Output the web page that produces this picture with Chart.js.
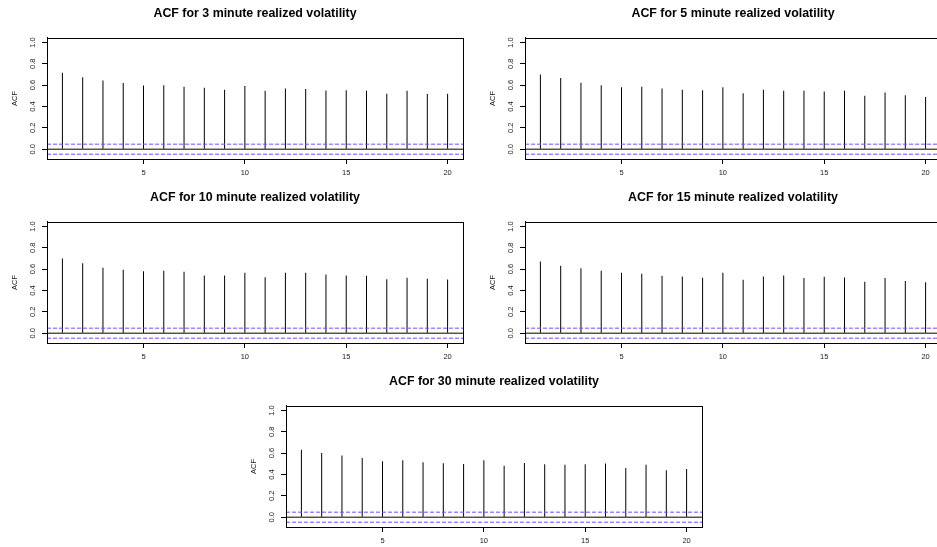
<!DOCTYPE html>
<html>
<head>
<meta charset="utf-8">
<script src="https://cdn.jsdelivr.net/npm/chart.js@4/dist/chart.umd.min.js"></script>
<style>
  html, body { margin: 0; padding: 0; background: #fff; width: 937px; height: 547px; overflow: hidden; position: relative; }
  canvas { position: absolute; }
</style>
</head>
<body>
<canvas id="c1" width="470" height="180" style="left:0px;top:0px;width:470px;height:180px"></canvas>
<canvas id="c2" width="470" height="180" style="left:478px;top:0px;width:470px;height:180px"></canvas>
<canvas id="c3" width="470" height="180" style="left:0px;top:184px;width:470px;height:180px"></canvas>
<canvas id="c4" width="470" height="180" style="left:478px;top:184px;width:470px;height:180px"></canvas>
<canvas id="c5" width="470" height="180" style="left:239px;top:368px;width:470px;height:180px"></canvas>
<script>
// ---- data ----
const lags = [1,2,3,4,5,6,7,8,9,10,11,12,13,14,15,16,17,18,19,20];
const acf3min  = [0.716,0.675,0.644,0.619,0.597,0.600,0.584,0.575,0.556,0.591,0.547,0.569,0.563,0.550,0.553,0.547,0.519,0.547,0.516,0.519];
const acf5min  = [0.700,0.666,0.622,0.600,0.581,0.584,0.569,0.556,0.553,0.581,0.525,0.556,0.547,0.547,0.540,0.547,0.500,0.531,0.506,0.490];
const acf10min = [0.700,0.656,0.613,0.594,0.581,0.584,0.575,0.541,0.541,0.566,0.525,0.566,0.566,0.550,0.541,0.538,0.506,0.519,0.509,0.503];
const acf15min = [0.672,0.631,0.609,0.584,0.566,0.556,0.538,0.531,0.519,0.566,0.500,0.531,0.541,0.516,0.528,0.522,0.481,0.516,0.488,0.478];
const acf30min = [0.633,0.602,0.577,0.555,0.524,0.533,0.514,0.505,0.498,0.533,0.483,0.508,0.495,0.492,0.495,0.502,0.461,0.492,0.439,0.451];
const confBound = 0.047;
const titles = [
  "ACF for 3 minute realized volatility",
  "ACF for 5 minute realized volatility",
  "ACF for 10 minute realized volatility",
  "ACF for 15 minute realized volatility",
  "ACF for 30 minute realized volatility"
];
const xTickValues = [5, 10, 15, 20];
const yTickValues = [0.0, 0.2, 0.4, 0.6, 0.8, 1.0];
const yLabel = "ACF";

// ---- chart building ----
const FONT = "'Liberation Sans', Arial, Helvetica, sans-serif";
const X_MIN = 0.24, X_MAX = 20.76, Y_MIN = -0.092, Y_MAX = 1.042;
const CANVAS_H = 180, AREA_LEFT = 47, AREA_TOP = 38, AREA_BOTTOM = 159, PAD_RIGHT = 7;

const boxPlugin = {
  id: 'rbox',
  afterDraw(chart) {
    const a = chart.chartArea, ctx = chart.ctx;
    ctx.save();
    ctx.strokeStyle = '#000';
    ctx.lineWidth = 1;
    ctx.strokeRect(Math.round(a.left) + 0.5, Math.round(a.top) + 0.5,
                   Math.round(a.right - a.left), Math.round(a.bottom - a.top));
    ctx.restore();
  }
};

function makeChart(id, title, values) {
  const ctx = document.getElementById(id).getContext('2d');
  return new Chart(ctx, {
    data: {
      datasets: [
        {
          type: 'bar',
          data: lags.map((l, i) => ({ x: l, y: values[i] })),
          backgroundColor: '#000',
          borderWidth: 0,
          barThickness: 1,
          inflateAmount: 0,
          order: 2
        },
        {
          type: 'line',
          data: [{ x: X_MIN, y: 0 }, { x: X_MAX, y: 0 }],
          borderColor: '#000',
          borderWidth: 1,
          pointRadius: 0,
          order: 1
        },
        {
          type: 'line',
          data: [{ x: X_MIN, y: confBound }, { x: X_MAX, y: confBound }],
          borderColor: 'rgb(120,70,255)',
          borderWidth: 1,
          borderDash: [4, 2],
          pointRadius: 0,
          order: 0
        },
        {
          type: 'line',
          data: [{ x: X_MIN, y: -confBound }, { x: X_MAX, y: -confBound }],
          borderColor: 'rgb(120,70,255)',
          borderWidth: 1,
          borderDash: [4, 2],
          pointRadius: 0,
          order: 0
        }
      ]
    },
    options: {
      responsive: false,
      animation: false,
      devicePixelRatio: 1,
      layout: { padding: { left: 0, top: 0, right: PAD_RIGHT, bottom: 0 } },
      plugins: {
        legend: { display: false },
        tooltip: { enabled: false },
        title: {
          display: true,
          text: title,
          fullSize: false,
          color: '#000',
          font: { family: FONT, size: 12.4, weight: 'bold' },
          padding: { top: 5.9, bottom: 17.2 }
        }
      },
      scales: {
        x: {
          type: 'linear',
          min: X_MIN, max: X_MAX,
          offset: false,
          afterBuildTicks(s) { s.ticks = xTickValues.map(v => ({ value: v })); },
          afterFit(s) { s.height = CANVAS_H - AREA_BOTTOM; },
          grid: { offset: false, drawOnChartArea: false, drawTicks: true, tickLength: 5, color: '#000' },
          border: { display: true, color: '#000' },
          ticks: {
            color: '#1a1a1a', padding: 4.5, maxRotation: 0, autoSkip: false,
            font: { family: FONT, size: 7.5 },
            callback: v => String(v)
          }
        },
        y: {
          type: 'linear',
          min: Y_MIN, max: Y_MAX,
          afterBuildTicks(s) { s.ticks = yTickValues.map(v => ({ value: v })); },
          afterFit(s) { s.width = AREA_LEFT; },
          grid: { drawOnChartArea: false, drawTicks: true, tickLength: 5, color: '#000' },
          border: { display: true, color: '#000' },
          title: {
            display: true, text: yLabel, color: '#1a1a1a',
            font: { family: FONT, size: 7.5 },
            padding: { top: 10, bottom: 0 }
          },
          ticks: {
            color: '#1a1a1a', padding: 4, minRotation: 90, maxRotation: 90,
            crossAlign: 'center', autoSkip: false,
            font: { family: FONT, size: 7.5 },
            callback: v => Number(v).toFixed(1)
          }
        }
      }
    },
    plugins: [boxPlugin]
  });
}

makeChart('c1', titles[0], acf3min);
makeChart('c2', titles[1], acf5min);
makeChart('c3', titles[2], acf10min);
makeChart('c4', titles[3], acf15min);
makeChart('c5', titles[4], acf30min);
</script>
</body>
</html>
